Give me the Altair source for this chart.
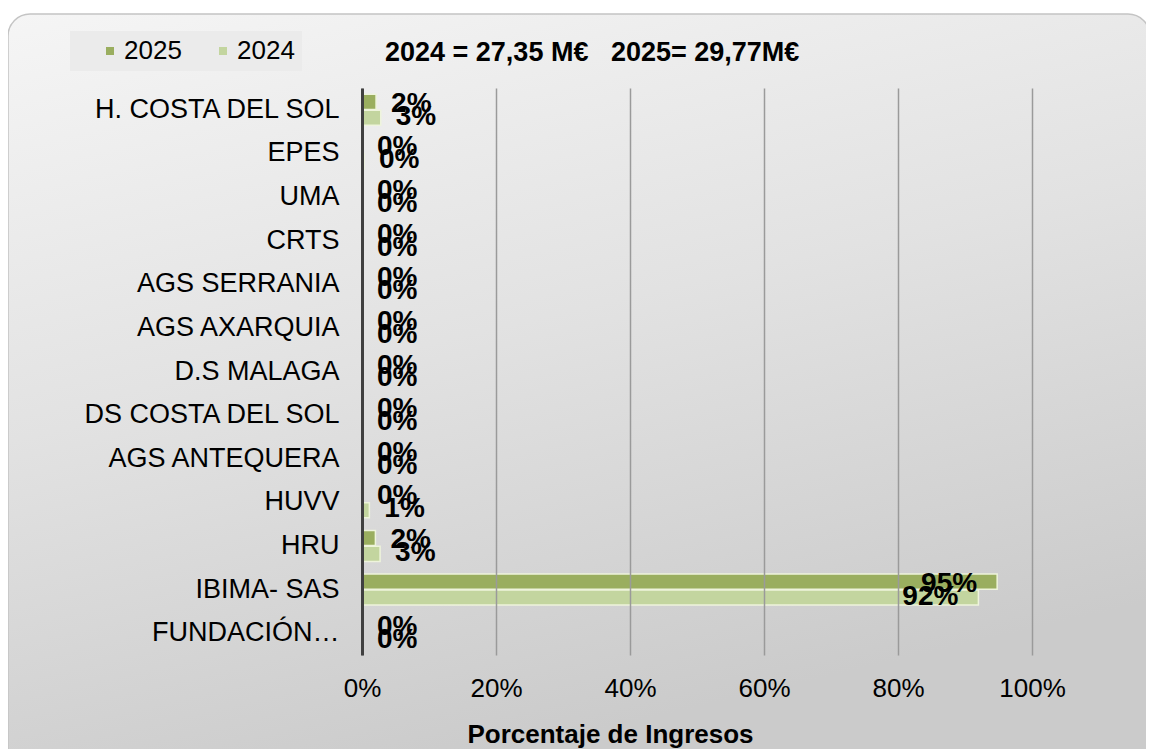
import altair as alt
import pandas as pd

categories = ["H. COSTA DEL SOL", "EPES", "UMA", "CRTS", "AGS SERRANIA", "AGS AXARQUIA",
              "D.S MALAGA", "DS COSTA DEL SOL", "AGS ANTEQUERA", "HUVV", "HRU",
              "IBIMA- SAS", "FUNDACIÓN…"]
years = ["2025", "2024"]
values_2025 = [0.021, 0.0, 0.0, 0.0, 0.0, 0.0, 0.0, 0.0, 0.0, 0.0, 0.020, 0.948, 0.0]
values_2024 = [0.028, 0.003, 0.0, 0.0, 0.0, 0.0, 0.0, 0.0, 0.0, 0.011, 0.027, 0.920, 0.0]
title_text = "2024 = 27,35 M€\u00a0\u00a0\u00a02025= 29,77M€"
x_title = "Porcentaje de Ingresos"
tick_values = [0, 0.2, 0.4, 0.6, 0.8, 1.0]
bar_colors = ["#9aae5f", "#c3d59f"]

rows = []
for i, c in enumerate(categories):
    rows.append({"cat": c, "year": "2025", "value": values_2025[i]})
    rows.append({"cat": c, "year": "2024", "value": values_2024[i]})
df = pd.DataFrame(rows)

W, H = 670, 567
FONT = "Liberation Sans, Arial, sans-serif"
NARROW = "Liberation Sans Narrow, Arial Narrow, Liberation Sans, sans-serif"

y_enc = alt.Y(
    "cat:N", sort=categories,
    scale=alt.Scale(paddingInner=0.29, paddingOuter=0.145),
    axis=alt.Axis(title=None, labelFont=FONT, labelFontSize=27, labelColor="#000000",
                  labelPadding=23, ticks=False, domain=True, domainColor="#404040",
                  domainWidth=3, grid=False, zindex=2, labelLimit=400),
)
yoff = alt.YOffset("year:N", sort=years, scale=alt.Scale(paddingInner=0.05))
x_enc = alt.X(
    "value:Q", scale=alt.Scale(domain=[0, 1], nice=False),
    axis=alt.Axis(format=".0%", values=tick_values, title=x_title, grid=True,
                  gridColor="#9a9a9a", gridWidth=1.5, domain=False, ticks=False,
                  labelFlush=False, labelOverlap=False,
                  labelFont=FONT, labelFontSize=26, labelColor="#000000", labelPadding=20,
                  titleFont=FONT, titleFontSize=26, titleFontWeight="bold",
                  titleColor="#000000", titleX=248, titleY=79, titleAlign="center",
                  titleBaseline="middle", zindex=1),
)
color_enc = alt.Color(
    "year:N", sort=years,
    scale=alt.Scale(domain=years, range=bar_colors),
    legend=alt.Legend(title=None, orient="none", legendX=-292, legendY=-57,
                      direction="horizontal", symbolType="square", symbolSize=64,
                      symbolStrokeWidth=0, symbolOffset=20, labelFont=FONT,
                      labelFontSize=26, labelColor="#000000", labelOffset=1,
                      columnPadding=8, fillColor="#ebebeb", padding=7),
)

base = alt.Chart(df)

bg = alt.Chart(alt.Data(values=[{"k": 1}])).mark_rect(
    cornerRadius=22, stroke="#c4c4c4", strokeWidth=1.5,
    color=alt.Gradient(gradient="linear", x1=0, y1=0, x2=0.35, y2=1,
                       stops=[alt.GradientStop(color="#f5f5f5", offset=0),
                              alt.GradientStop(color="#e2e2e2", offset=0.5),
                              alt.GradientStop(color="#cbcbcb", offset=1)]),
).encode(x=alt.value(-354), x2=alt.value(W + 118), y=alt.value(-74), y2=alt.value(H + 120))

headline = alt.Chart(alt.Data(values=[{"t": title_text}])).mark_text(
    align="left", baseline="middle", font=FONT, fontSize=27, fontWeight="bold",
    color="#000000"
).encode(x=alt.value(23), y=alt.value(-35), text="t:N")

bars = base.mark_bar(stroke="#eef4dc", strokeWidth=1.5).encode(
    x=x_enc, y=y_enc, yOffset=yoff, color=color_enc
)


def labels(year, big, dy):
    cond = f"datum.year == '{year}' && datum.value {'>=' if big else '<'} 0.5"
    return base.transform_filter(cond).mark_text(
        align="right" if big else "left", baseline="middle",
        dx=-20 if big else 15, dy=dy, font=NARROW, fontWeight="bold",
        fontSize=28, color="#000000"
    ).encode(x="value:Q", y=alt.Y("cat:N", sort=categories), yOffset=yoff,
             text=alt.Text("value:Q", format=".0%"))


text_layers = [labels("2025", False, 2), labels("2024", False, -1),
               labels("2025", True, 2), labels("2024", True, -1)]

chart = alt.layer(bg, headline, bars, *text_layers).properties(
    width=W, height=H,
    padding={"left": 354, "top": 80, "right": 114, "bottom": 94},
    autosize=alt.AutoSizeParams(type="none"),
    background="#ffffff",
).configure_view(stroke=None)

chart.save("out.html", embed_options={"renderer": "svg", "actions": False})
